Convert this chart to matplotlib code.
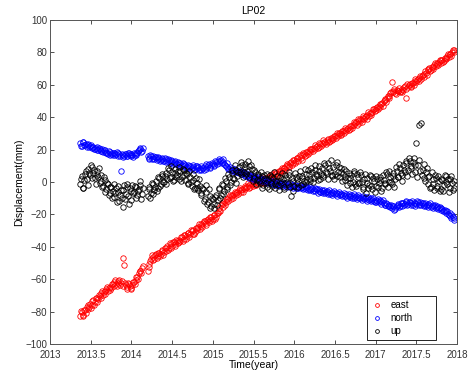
"""
LP02 GNSS station displacement time series (east / north / up).
"""

import numpy as np
import matplotlib
matplotlib.use('Agg')
import matplotlib.pyplot as plt

# two observation spans, gap in early 2014; "_b" samples sit between the "_a" ones
seg1_span_a = (2013.37, 2014.13)
seg1_span_b = (2013.38, 2014.14)
seg2_span_a = (2014.20, 2017.96)
seg2_span_b = (2014.21, 2017.97)

# east (mm)
east_seg1_a = [-82.5, -80.1, -81.8, -78.9, -77.4, -78.6, -75.2, -76.0, -73.1, -74.3,
               -71.6, -72.2, -70.5, -68.4, -69.7, -67.1, -66.0, -67.3, -64.8, -65.5,
               -63.2, -61.9, -63.0, -62.4, -60.8, -62.1, -47.0, -51.5, -63.5, -64.6,
               -63.0, -65.2, -63.8, -61.5, -60.2, -58.4, -56.1, -54.7, -52.9]
east_seg1_b = [-79.4, -82.9, -79.0, -80.6, -76.1, -76.9, -77.8, -73.5, -75.9, -71.8,
               -73.9, -69.8, -71.6, -67.2, -68.0, -68.9, -64.6, -65.2, -66.9, -62.8,
               -64.5, -60.7, -64.2, -60.9, -63.5, -61.2, -64.0, -62.2, -65.8, -62.1,
               -63.9, -66.0, -61.9, -62.7, -58.8, -59.6, -55.0, -55.9, -51.8]
east_seg2_a = [-55.2, -50.8, -47.5, -46.1, -47.3, -44.6, -45.8, -43.9, -44.7, -42.5,
               -43.3, -41.0, -39.8, -40.9, -38.2, -39.4, -37.1, -38.0, -36.3, -35.5,
               -36.6, -34.2, -35.1, -32.8, -33.6, -31.4, -32.2, -30.1, -29.5, -30.6,
               -28.3, -27.6, -28.8, -26.1, -25.3, -24.0, -25.2, -22.8, -23.5, -21.9,
               -22.6, -20.4, -21.3, -18.9, -16.2, -14.1, -15.5, -11.8, -12.6, -10.2,
               -9.4, -10.5, -8.1, -7.2, -8.3, -6.0, -5.1, -6.4, -4.2, -3.5,
               -4.6, -2.8, -1.9, -3.0, -1.2, -0.4, -1.6, 0.3, -0.8, 0.9,
               0.1, 1.4, 0.6, 2.1, 1.2, 3.0, 3.9, 3.1, 4.8, 5.6,
               4.9, 6.7, 7.5, 6.8, 8.9, 9.6, 10.8, 10.1, 12.2, 11.5,
               13.4, 12.8, 14.6, 15.3, 14.7, 16.5, 17.2, 16.4, 18.3, 19.1,
               18.6, 20.4, 21.0, 20.1, 22.3, 21.8, 23.5, 24.2, 23.4, 25.0,
               24.6, 26.1, 25.3, 27.2, 26.8, 28.4, 29.1, 28.3, 30.2, 29.6,
               31.3, 32.0, 31.2, 33.4, 32.8, 34.6, 35.5, 34.9, 36.8, 37.4,
               36.7, 38.5, 39.3, 38.8, 40.6, 41.4, 40.9, 42.8, 43.5, 44.9,
               44.2, 46.1, 47.0, 46.3, 48.5, 49.8, 50.6, 52.1, 53.4, 54.8,
               61.8, 56.1, 55.2, 57.0, 56.3, 55.6, 57.4, 56.8, 59.3, 52.0,
               58.7, 60.2, 59.5, 61.4, 62.3, 61.7, 63.6, 64.5, 63.9, 66.0,
               66.8, 67.5, 68.9, 70.1, 69.4, 71.2, 72.0, 71.5, 73.3, 74.1,
               73.6, 75.2, 74.7, 76.5, 77.8, 77.1, 79.0, 80.2, 81.3]
east_seg2_b = [-52.6, -48.9, -45.0, -48.4, -45.2, -46.9, -43.7, -45.9, -42.1, -44.8,
               -40.6, -42.7, -41.8, -37.9, -40.5, -36.8, -39.2, -35.6, -37.8, -37.2,
               -34.0, -36.4, -33.0, -34.9, -31.5, -33.8, -29.9, -31.9, -31.8, -28.4,
               -29.9, -26.2, -27.0, -27.9, -23.8, -26.4, -23.4, -24.6, -21.5, -24.0,
               -20.5, -22.9, -19.4, -17.6, -17.9, -12.9, -13.6, -13.9, -10.6, -11.9,
               -8.0, -8.9, -9.7, -5.9, -6.6, -7.5, -3.8, -4.7, -5.9, -2.2,
               -3.1, -0.9, -3.4, -0.8, -2.6, 1.1, -1.8, 1.6, 1.0, -0.9,
               2.2, -0.6, 2.5, 0.2, 3.4, 1.6, 5.1, 2.3, 6.2, 4.0,
               6.9, 5.3, 8.9, 8.6, 7.4, 11.2, 9.1, 12.0, 10.6, 13.4,
               11.9, 14.7, 13.0, 16.6, 13.3, 18.0, 15.9, 18.5, 17.0, 20.4,
               20.2, 19.0, 22.6, 21.9, 20.9, 23.8, 22.1, 25.7, 24.9, 23.6,
               26.4, 24.9, 27.3, 25.8, 28.6, 27.1, 30.4, 30.0, 28.8, 31.6,
               30.1, 33.4, 33.0, 31.8, 34.4, 33.3, 36.9, 36.5, 35.2, 38.7,
               38.6, 37.0, 40.7, 40.3, 39.2, 43.0, 42.5, 41.6, 45.0, 43.6,
               45.9, 45.0, 48.4, 47.9, 47.1, 51.0, 49.4, 53.3, 52.0, 55.7,
               55.3, 57.5, 54.4, 55.9, 57.8, 56.4, 55.8, 58.4, 57.6, 60.5,
               60.0, 58.9, 61.2, 60.1, 63.5, 63.2, 62.1, 65.4, 65.6, 64.8,
               68.3, 66.2, 69.9, 68.8, 71.3, 70.0, 73.4, 73.0, 72.0, 75.2,
               75.6, 74.0, 76.4, 75.7, 78.9, 79.3, 78.0, 81.6, 80.2]

# north (mm)
north_seg1_a = [23.8, 22.1, 24.5, 22.9, 21.7, 23.3, 22.0, 20.8, 21.9, 20.2,
                21.4, 19.6, 20.5, 19.1, 18.4, 19.8, 18.0, 17.2, 18.6, 17.5,
                16.8, 18.1, 17.0, 16.2, 17.4, 6.5, 16.9, 15.8, 17.1, 16.3,
                17.6, 15.9, 16.8, 17.9, 16.4, 18.2, 19.5, 21.0, 19.2]
north_seg1_b = [22.3, 24.9, 22.6, 23.7, 23.0, 21.4, 22.8, 21.6, 20.1, 21.2,
                19.8, 21.0, 19.4, 20.3, 19.5, 18.3, 17.8, 19.1, 16.9, 18.0,
                17.6, 16.5, 18.4, 17.7, 15.9, 17.2, 15.7, 17.5, 16.0, 18.0,
                16.4, 17.3, 15.6, 16.9, 17.8, 19.1, 20.4, 18.5, 21.3]
north_seg2_a = [15.8, 14.6, 16.3, 15.1, 14.2, 15.5, 13.9, 14.8, 13.6, 14.4,
                13.2, 14.0, 12.7, 13.5, 12.1, 12.9, 11.8, 12.6, 11.3, 10.7,
                11.5, 10.2, 9.6, 10.8, 9.3, 8.7, 9.9, 8.4, 9.1, 7.8,
                8.6, 9.4, 8.1, 7.5, 8.8, 9.7, 8.3, 10.2, 9.5, 10.6,
                11.3, 10.4, 12.1, 12.8, 11.6, 13.4, 12.5, 11.2, 10.1, 9.0,
                8.2, 7.6, 8.5, 6.9, 7.3, 6.1, 5.4, 6.3, 4.8, 5.6,
                4.2, 3.5, 4.6, 2.9, 3.3, 2.1, 2.8, 1.6, 2.4, 1.0,
                1.7, 0.5, 1.2, -0.3, 0.6, -0.8, 0.1, -1.2, -0.4, -1.6,
                -0.9, -2.1, -1.3, -0.5, -1.8, -2.6, -1.4, -2.2, -3.0, -1.9,
                -2.7, -3.4, -2.3, -3.1, -4.0, -2.8, -3.7, -4.5, -3.3, -4.2,
                -5.0, -3.9, -4.7, -5.6, -4.4, -5.3, -6.1, -5.0, -5.8, -6.6,
                -5.5, -6.4, -7.2, -6.0, -6.9, -7.6, -6.5, -7.4, -8.2, -7.1,
                -7.9, -8.6, -7.5, -8.4, -9.1, -8.0, -8.8, -9.6, -8.5, -9.3,
                -10.1, -9.0, -9.8, -10.6, -9.5, -10.4, -11.2, -10.1, -10.9, -11.7,
                -10.8, -11.6, -12.4, -11.3, -12.2, -13.0, -14.1, -13.5, -14.8, -15.6,
                -16.2, -15.1, -16.7, -14.8, -13.9, -14.6, -13.2, -12.7, -13.8, -12.5,
                -13.4, -12.2, -13.1, -14.0, -12.8, -13.6, -12.4, -13.3, -14.2, -13.0,
                -13.9, -14.7, -13.5, -14.4, -15.3, -14.2, -15.1, -16.0, -15.0, -16.3,
                -17.2, -16.4, -18.1, -19.0, -18.2, -20.1, -21.0, -20.3, -22.4]
north_seg2_b = [14.5, 16.6, 14.0, 16.2, 15.6, 13.8, 15.3, 13.2, 15.0, 12.8,
                14.6, 12.5, 13.9, 12.0, 13.6, 11.4, 13.0, 11.0, 12.4, 11.9,
                10.0, 11.6, 10.9, 8.9, 10.5, 9.8, 8.0, 10.3, 7.6, 9.6,
                9.9, 7.4, 9.6, 8.9, 7.2, 10.9, 9.1, 11.0, 8.6, 11.8,
                10.0, 12.9, 11.0, 13.9, 12.8, 11.7, 14.0, 10.4, 11.8, 8.1,
                9.3, 6.8, 7.5, 8.1, 5.9, 7.0, 6.6, 4.7, 6.0, 4.0,
                5.3, 4.4, 2.5, 4.1, 2.0, 3.6, 1.6, 3.2, 0.8, 2.2,
                0.4, 2.0, -0.5, 1.4, -0.9, 0.9, -1.5, 0.6, -2.0, -0.2,
                -2.4, -0.4, -2.6, -1.1, -0.8, -3.0, -2.7, -0.9, -2.0, -3.6,
                -1.6, -4.0, -3.6, -1.9, -3.2, -4.4, -2.4, -3.2, -5.1, -2.9,
                -4.1, -5.8, -3.5, -4.4, -6.5, -4.2, -5.9, -7.0, -4.8, -6.0,
                -7.4, -5.1, -6.6, -8.1, -5.7, -6.9, -8.5, -6.3, -7.7, -8.8,
                -6.8, -8.4, -9.6, -7.2, -8.8, -10.1, -7.7, -9.2, -10.4, -8.2,
                -9.6, -11.1, -8.7, -10.0, -11.5, -9.1, -10.7, -11.9, -9.7, -12.2,
                -12.6, -10.5, -11.8, -13.3, -11.4, -14.0, -12.8, -15.1, -13.9, -14.5,
                -15.0, -17.3, -15.6, -13.6, -15.5, -12.8, -14.8, -13.9, -11.9, -14.1,
                -12.1, -14.4, -11.9, -13.0, -14.7, -12.0, -14.2, -12.6, -13.0, -15.0,
                -12.8, -14.0, -15.6, -13.1, -14.8, -16.0, -13.9, -15.4, -16.9, -15.7,
                -16.0, -18.2, -17.0, -17.8, -20.0, -19.0, -22.3, -21.5, -23.3]

# up (mm)
up_seg1_a = [-1.2, 3.5, -3.8, 5.1, 1.6, 8.2, 4.3, 9.0, 5.7, 2.4,
             7.1, 3.0, -0.5, 4.2, -2.6, 1.1, -4.3, -1.5, -7.0, -2.8,
             -5.4, -9.1, -3.6, -6.2, -11.8, -4.7, -15.2, -2.1, -7.5, -3.3,
             -13.6, -5.8, -1.9, -6.4, -3.0, -8.3, -4.1, 0.6, -7.2]
up_seg1_b = [2.1, -4.0, 1.5, 6.6, -1.9, 5.4, 10.2, 2.2, 7.6, -1.0,
             4.4, 8.5, 0.9, -3.1, 2.8, -5.9, -0.4, -8.3, -3.2, -10.0,
             -1.0, -6.8, -12.5, -2.3, -7.9, -9.8, -5.1, -10.7, -1.4, -8.9,
             -4.0, -11.2, -6.6, -2.5, -9.6, -5.3, -1.8, -10.4, -3.6]
up_seg2_a = [-8.4, -3.1, -6.9, -1.2, -5.0, 0.8, -3.6, 2.5, -1.4, 3.9,
             0.2, 5.6, 1.8, 7.2, 3.0, 6.4, 1.5, 8.1, 4.6, 2.0,
             6.8, 3.2, 7.5, 1.0, 4.9, -1.3, 3.1, -2.6, 1.4, -3.8,
             -0.6, -5.2, -2.4, -8.0, -4.5, -10.3, -6.1, -12.4, -8.7, -14.9,
             -10.5, -16.0, -7.8, -11.2, -4.6, -8.3, -2.0, -5.7, 0.4, -2.9,
             3.1, 0.0, 5.5, 1.8, 7.4, 3.6, 9.2, 4.8, 10.5, 6.1,
             11.3, 7.0, 9.8, 4.9, 8.2, 2.7, 6.0, 1.2, 4.4, -0.8,
             3.5, -1.6, 2.2, -2.9, 1.0, 4.1, -0.5, 2.6, -3.5, 0.7,
             -2.0, 3.3, -0.9, 1.8, -4.2, 2.4, -1.1, 4.6, -8.5, 0.9,
             -2.3, 2.9, -0.4, 4.0, -1.7, 3.4, 0.6, 5.2, 1.3, 4.8,
             0.9, 6.0, 2.4, 7.7, 3.5, 6.5, 1.8, 8.9, 4.2, 10.6,
             5.6, 11.8, 7.0, 3.9, 9.4, 5.1, 12.2, 6.3, 2.8, 8.5,
             4.7, 1.2, 6.9, 2.5, -0.8, 4.3, 0.1, 5.6, -2.4, 3.2,
             -0.5, 4.4, -3.3, 1.7, -6.8, 2.6, -1.9, 3.8, -4.5, 0.4,
             -2.7, 2.0, -0.6, 3.1, -3.9, 1.5, -1.2, 4.7, 0.3, 2.9,
             -1.0, 5.3, 1.9, 6.8, 3.0, 8.6, 4.4, 10.2, 6.1, 11.5,
             7.3, 13.0, 8.8, 12.1, 5.9, 23.8, 10.4, 35.2, 36.4, 7.6,
             2.7, 6.2, -1.5, 4.0, -3.2, 1.6, -5.0, 2.3, -2.6, 0.5,
             -4.1, 1.3, -2.0, 3.6, -1.1, -6.3, 2.1, -0.7, -3.4]
up_seg2_b = [-4.2, -9.6, -0.4, -7.3, -3.0, -5.8, 3.1, -2.2, 5.0, 0.1,
             4.0, -1.5, 8.6, 2.7, 9.9, 0.4, 5.3, 2.9, 6.9, 9.3,
             0.8, 8.0, 4.4, 5.8, -0.6, 6.5, 0.2, 4.7, -4.4, 2.6,
             -3.5, 1.9, -6.8, -3.6, -11.6, -1.9, -13.7, -4.4, -15.8, -10.0,
             -13.6, -9.1, -14.2, -3.6, -9.7, -1.1, -7.4, 2.3, -4.4, 4.9,
             -1.8, 7.2, 2.4, 10.8, -0.4, 5.9, 6.4, 12.4, 2.9, 9.3,
             5.1, 13.0, 3.1, 10.5, 0.6, 7.3, -1.5, 5.2, 0.9, 6.4,
             -3.8, 4.5, -0.7, 5.2, -4.6, 2.9, -2.2, 5.9, -1.0, 3.6,
             -5.1, 0.8, 5.5, -2.9, 4.2, -0.3, 6.1, -3.2, 2.6, -5.8,
             5.6, 1.9, -3.0, 6.9, 2.5, -1.0, 8.0, -0.2, 7.4, 2.0,
             8.7, 0.0, 10.2, 4.9, 1.2, 9.6, 5.0, 3.1, 12.0, 6.4,
             2.1, 8.8, 13.5, 4.6, 1.8, 10.7, 3.9, 9.5, 6.0, 0.9,
             8.1, 3.3, -1.6, 5.8, 2.4, -3.1, 7.0, -1.2, 4.8, -0.6,
             6.3, 0.2, -4.6, 5.0, -0.9, -3.8, 4.3, -2.4, 2.5, -6.0,
             3.9, -3.1, 1.2, -5.6, 4.4, -0.4, 5.9, -2.9, 6.6, -0.3,
             3.6, -2.9, 9.0, 2.8, 11.2, 5.5, 0.9, 7.3, 13.2, 4.0,
             14.6, 9.9, 4.7, 15.1, 10.8, 2.9, 13.5, 6.7, 4.3, 10.9,
             0.6, 8.4, 3.0, -3.6, 6.2, -1.2, 4.4, -3.9, 3.4, -5.4,
             2.0, -5.6, 4.6, -0.2, 1.8, -3.8, 4.0, -5.2, 0.9]

x_ticks = [2013, 2013.5, 2014, 2014.5, 2015, 2015.5, 2016, 2016.5, 2017, 2017.5, 2018]
x_tick_labels = ['2013', '2013.5', '2014', '2014.5', '2015', '2015.5',
                 '2016', '2016.5', '2017', '2017.5', '2018']
y_ticks = [-100, -80, -60, -40, -20, 0, 20, 40, 60, 80, 100]


def series(s1a, s1b, s2a, s2b):
    t = np.concatenate([np.linspace(*seg1_span_a, len(s1a)),
                        np.linspace(*seg1_span_b, len(s1b)),
                        np.linspace(*seg2_span_a, len(s2a)),
                        np.linspace(*seg2_span_b, len(s2b))])
    return t, np.array(s1a + s1b + s2a + s2b)


plt.rcParams['font.family'] = ['Liberation Sans', 'DejaVu Sans']

fig = plt.figure(figsize=(4.73, 3.78), dpi=100)
ax = fig.add_axes([0.106, 0.09, 0.860, 0.857])

style = dict(linestyle='none', marker='o', markersize=3.9,
             markerfacecolor='none', markeredgewidth=0.6)
t, v = series(east_seg1_a, east_seg1_b, east_seg2_a, east_seg2_b)
ax.plot(t, v, color='#ff0000', label='east', **style)
t, v = series(north_seg1_a, north_seg1_b, north_seg2_a, north_seg2_b)
ax.plot(t, v, color='#0000ff', label='north', **style)
t, v = series(up_seg1_a, up_seg1_b, up_seg2_a, up_seg2_b)
ax.plot(t, v, color='black', label='up', **style)

ax.set_xlim(2013, 2018)
ax.set_ylim(-100, 100)
ax.set_xticks(x_ticks)
ax.set_xticklabels(x_tick_labels)
ax.set_yticks(y_ticks)
ax.tick_params(direction='in', top=True, right=True, length=3, width=0.6,
               labelsize=7, colors='#333333')
ax.tick_params(axis='x', pad=4)
ax.tick_params(axis='y', pad=2)
for sp in ax.spines.values():
    sp.set_color('#555555')
    sp.set_linewidth(0.7)

ax.set_title('LP02', fontsize=7.5, pad=4)
ax.set_xlabel('Time(year)', fontsize=7.5, labelpad=0)
ax.set_ylabel('Displacement(mm)', fontsize=7.5, labelpad=1)

leg = ax.legend(loc='lower left', bbox_to_anchor=(0.78, 0.012, 0.168, 0.164),
                mode='expand', fontsize=7, markerscale=0.7, handlelength=1.2,
                borderaxespad=0, fancybox=False, framealpha=1, labelspacing=0.3,
                handletextpad=0.8, borderpad=0.4)
leg.get_frame().set_edgecolor('black')
leg.get_frame().set_linewidth(0.6)

fig.savefig('out.png', dpi=100)
